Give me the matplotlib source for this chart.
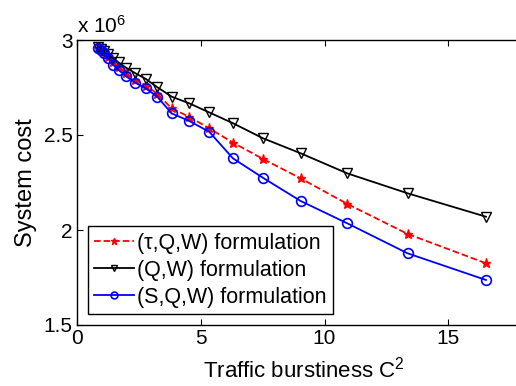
import matplotlib
matplotlib.use("Agg")
import matplotlib.pyplot as plt
from matplotlib.ticker import FuncFormatter

plt.rcParams['font.family'] = ['Liberation Sans', 'DejaVu Sans']
plt.rcParams['mathtext.default'] = 'regular'

# traffic burstiness C^2 and system cost for each formulation
burstiness = [0.85, 0.95, 1.08, 1.25, 1.45, 1.68, 1.97, 2.36, 2.78, 3.24,
              3.82, 4.53, 5.34, 6.30, 7.51, 9.03, 10.92, 13.36, 16.52]
cost_tau = [2.960, 2.950, 2.935, 2.912, 2.885, 2.858, 2.825, 2.792, 2.760, 2.718,
            2.640, 2.596, 2.535, 2.460, 2.374, 2.272, 2.137, 1.979, 1.825]
cost_qw = [2.965, 2.955, 2.940, 2.925, 2.905, 2.882, 2.855, 2.825, 2.795, 2.752,
           2.702, 2.667, 2.619, 2.562, 2.483, 2.404, 2.298, 2.193, 2.070]
cost_sqw = [2.958, 2.948, 2.930, 2.905, 2.870, 2.842, 2.810, 2.775, 2.745, 2.702,
            2.614, 2.574, 2.517, 2.377, 2.275, 2.153, 2.035, 1.877, 1.737]
scale = 1e6

labels = ['(\u03c4,Q,W) formulation', '(Q,W) formulation', '(S,Q,W) formulation']

fig = plt.figure(figsize=(5.16, 3.86), dpi=100)
# right edge of the box falls just outside the picture, as in the original
ax = fig.add_axes([77/516, 61/386, 453/516, 285/386])

ax.plot(burstiness, [c*scale for c in cost_tau], 'r--', marker='*', ms=6.5, lw=1.3, label=labels[0])
ax.plot(burstiness, [c*scale for c in cost_qw], 'k-', marker='v', ms=7, mfc='none', mew=1.0, lw=1.3, label=labels[1])
ax.plot(burstiness, [c*scale for c in cost_sqw], 'b-', marker='o', ms=7, mfc='none', mew=1.2, lw=1.3, label=labels[2])

ax.set_xlim(0, 18.3)
ax.set_ylim(1.5e6, 3e6)
ax.set_xticks([0, 5, 10, 15])
ax.set_yticks([1.5e6, 2e6, 2.5e6, 3e6])
ax.yaxis.set_major_formatter(FuncFormatter(lambda v, p: '%g' % (v/scale)))
ax.tick_params(direction='in', top=True, right=True, length=4, labelsize=15, pad=3)
for s in ax.spines.values():
    s.set_linewidth(1.0)

ax.text(0.0, 1.01, 'x 10$^6$', transform=ax.transAxes, fontsize=15, va='bottom', ha='left')
ax.set_xlabel('Traffic burstiness C$^2$', fontsize=16, labelpad=6)
ax.set_ylabel('System cost', fontsize=17, labelpad=5)

leg = ax.legend(loc='lower left', fontsize=15.5, handlelength=1.85, borderaxespad=0.5,
                fancybox=False, framealpha=1, edgecolor='k', borderpad=0.3,
                labelspacing=0.28, handletextpad=0.15, markerscale=0.7)
leg.get_frame().set_linewidth(1.0)

fig.savefig('out.png', dpi=100)
